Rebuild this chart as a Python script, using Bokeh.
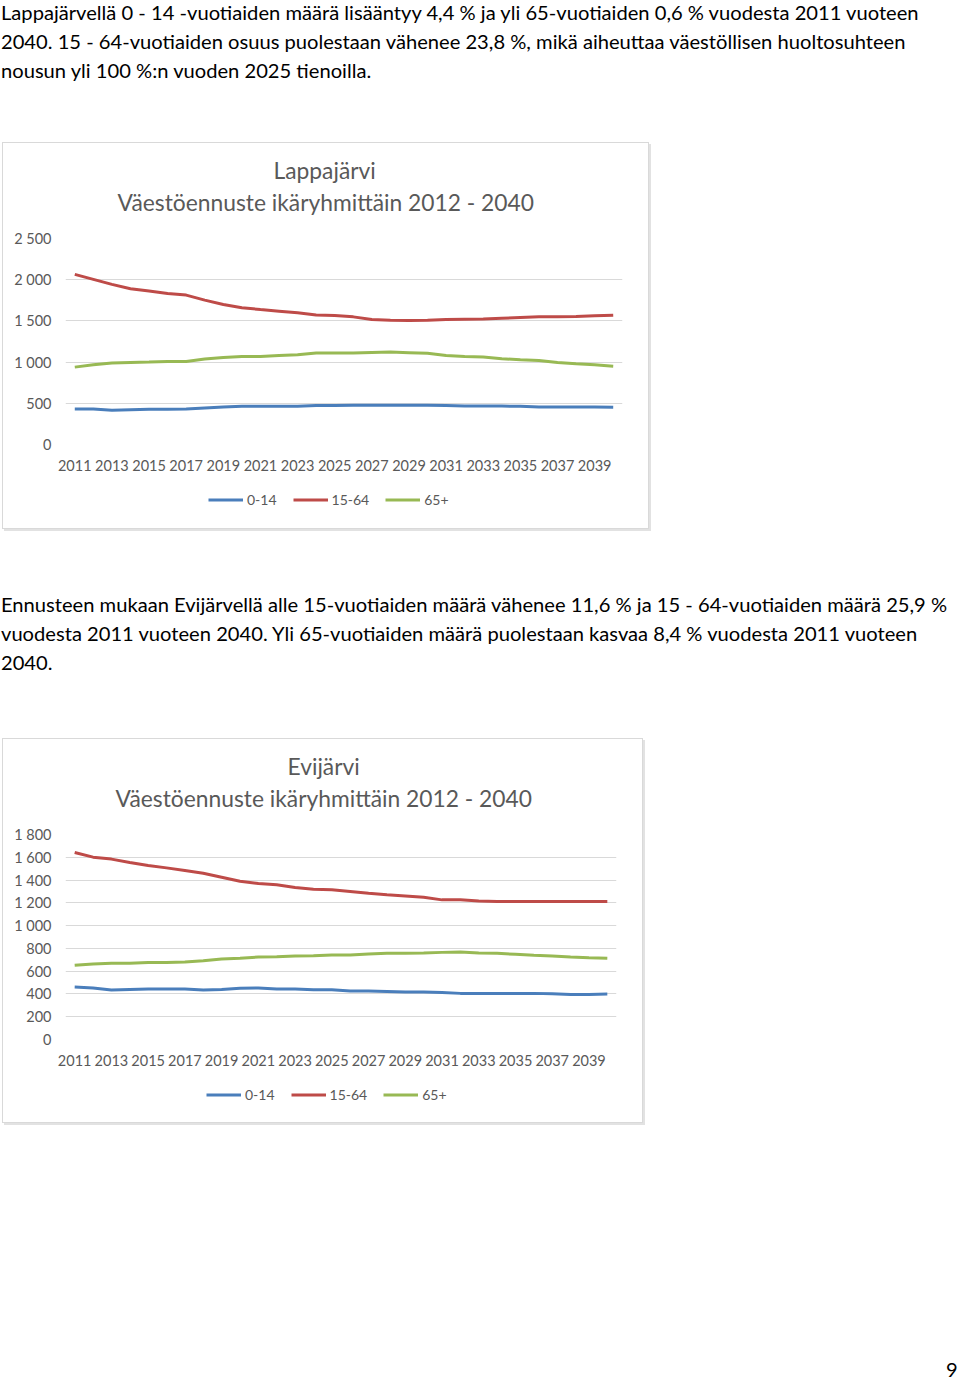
from bokeh.plotting import figure
from bokeh.models import Div, Title, Legend, LegendItem, FixedTicker, Range1d
from bokeh.layouts import column
from bokeh.embed import file_html
from bokeh.resources import INLINE

years = [2011, 2012, 2013, 2014, 2015, 2016, 2017, 2018, 2019, 2020,
         2021, 2022, 2023, 2024, 2025, 2026, 2027, 2028, 2029, 2030,
         2031, 2032, 2033, 2034, 2035, 2036, 2037, 2038, 2039, 2040]
x_ticks = [2011, 2013, 2015, 2017, 2019, 2021, 2023, 2025, 2027, 2029,
           2031, 2033, 2035, 2037, 2039]
series_names = ["0-14", "15-64", "65+"]

# Lappajärvi
lap_0_14 = [431, 431, 415, 423, 427, 427, 431, 443, 455, 463, 463, 463, 463, 472, 472,
            476, 476, 476, 476, 476, 472, 467, 467, 467, 463, 455, 455, 455, 455, 451]
lap_15_64 = [2065, 2004, 1943, 1890, 1862, 1833, 1813, 1752, 1699, 1659, 1638, 1618, 1598, 1573, 1565,
             1549, 1516, 1508, 1504, 1508, 1516, 1520, 1524, 1533, 1541, 1549, 1549, 1553, 1561, 1569]
lap_65 = [939, 967, 988, 996, 1000, 1008, 1008, 1037, 1057, 1069, 1069, 1081, 1089, 1110, 1110,
          1110, 1118, 1122, 1114, 1106, 1081, 1069, 1061, 1041, 1028, 1020, 996, 980, 967, 951]
lap_yticks = [0, 500, 1000, 1500, 2000, 2500]
lap_ylabels = ["0", "500", "1 000", "1 500", "2 000", "2 500"]

# Evijärvi
evi_0_14 = [460, 452, 434, 440, 443, 443, 443, 434, 440, 449, 452, 443, 443, 437, 437,
            425, 425, 422, 416, 416, 413, 405, 405, 405, 405, 405, 402, 396, 396, 399]
evi_15_64 = [1642, 1601, 1584, 1554, 1528, 1507, 1484, 1460, 1425, 1390, 1370, 1358, 1334, 1320, 1314,
             1299, 1284, 1270, 1261, 1249, 1226, 1226, 1217, 1211, 1211, 1211, 1211, 1211, 1211, 1211]
evi_65 = [651, 663, 669, 669, 677, 677, 680, 692, 707, 713, 724, 727, 733, 736, 742,
          742, 751, 757, 757, 760, 765, 768, 760, 757, 748, 739, 733, 724, 718, 713]
evi_yticks = [0, 200, 400, 600, 800, 1000, 1200, 1400, 1600, 1800]
evi_ylabels = ["0", "200", "400", "600", "800", "1 000", "1 200", "1 400", "1 600", "1 800"]

colors = ["#4a7ebb", "#be4b48", "#98b954"]
FONT = "Lato"
GRAY = "#595959"
subtitle = "Väestöennuste ikäryhmittäin 2012 - 2040"
BOX = {"box-shadow": "0 0 0 1px #d9d9d9, 2px 2px 0 1px #e2e2e2"}

para1 = ["Lappajärvellä 0 - 14 -vuotiaiden määrä lisääntyy 4,4 % ja yli 65-vuotiaiden 0,6 % vuodesta 2011 vuoteen",
         "2040. 15 - 64-vuotiaiden osuus puolestaan vähenee 23,8 %, mikä aiheuttaa väestöllisen huoltosuhteen",
         "nousun yli 100 %:n vuoden 2025 tienoilla."]
para2 = ["Ennusteen mukaan Evijärvellä alle 15-vuotiaiden määrä vähenee 11,6 % ja 15 - 64-vuotiaiden määrä 25,9 %",
         "vuodesta 2011 vuoteen 2040. Yli 65-vuotiaiden määrä puolestaan kasvaa 8,4 % vuodesta 2011 vuoteen",
         "2040."]


def make_chart(place, yticks, ylabels, ymax, data, frame_w, frame_h, sub_off, place_off):
    p = figure(frame_width=frame_w, frame_height=frame_h, output_backend="svg", toolbar_location=None,
               x_range=Range1d(2010.5, 2040.5), y_range=Range1d(0, ymax),
               min_border_left=62, min_border_right=26, min_border_top=95,
               min_border_bottom=40,
               outline_line_color=None, background_fill_color="white",
               border_fill_color="white")
    # spacer, subtitle, title (stacked outward from the frame)
    p.add_layout(Title(text=" ", text_font_size="1px", standoff=20), "above")
    p.add_layout(Title(text=subtitle, align="left", offset=sub_off, text_font=FONT,
                       text_font_size="22.8px", text_color=GRAY, text_font_style="normal",
                       standoff=0), "above")
    p.add_layout(Title(text=place, align="left", offset=place_off, text_font=FONT,
                       text_font_size="22.8px", text_color=GRAY, text_font_style="normal",
                       standoff=4), "above")
    for vals, c in zip(data, colors):
        p.line(years, vals, line_color=c, line_width=3)
    p.xaxis.ticker = FixedTicker(ticks=x_ticks)
    p.xaxis.major_label_overrides = {t: str(t) for t in x_ticks}
    p.yaxis.ticker = FixedTicker(ticks=yticks)
    p.yaxis.major_label_overrides = dict(zip(yticks, ylabels))
    for ax in (p.xaxis, p.yaxis):
        ax.axis_line_color = None
        ax.major_tick_line_color = None
        ax.minor_tick_line_color = None
        ax.major_label_text_font = FONT
        ax.major_label_text_font_size = "14.5px"
        ax.major_label_text_color = GRAY
    p.yaxis.major_label_standoff = 8
    p.xaxis.major_label_standoff = 9
    p.xgrid.grid_line_color = None
    p.ygrid.grid_line_color = "#d9d9d9"
    p.ygrid.ticker = FixedTicker(ticks=yticks)
    return p


def legend_strip(width, height, loc, data):
    # legend-only strip under the chart; its lines use the same series but lie outside its range
    q = figure(width=width, height=height, output_backend="svg", toolbar_location=None,
               x_range=Range1d(0, 1), y_range=Range1d(0, 1), min_border=0,
               x_axis_location=None, y_axis_location=None,
               outline_line_color=None, background_fill_color="white", border_fill_color="white")
    q.grid.visible = False
    items = []
    for name, vals, c in zip(series_names, data, colors):
        r = q.line(years, vals, line_color=c, line_width=3)
        items.append(LegendItem(label=name, renderers=[r]))
    q.add_layout(Legend(items=items, orientation="horizontal", location=loc,
                        border_line_color=None, background_fill_alpha=0,
                        glyph_width=35, glyph_height=17, label_standoff=4, spacing=16,
                        label_text_font=FONT, label_text_font_size="14px",
                        label_text_color=GRAY, padding=0, margin=0), "center")
    return q


TXT = "font-family:Lato;font-size:20.15px;line-height:29px;color:#000;white-space:nowrap;"

div1 = Div(text="<div style='%s margin-top:-2px;margin-left:1px;'>%s</div>" % (TXT, "<br>".join(para1)),
           width=944, height=143, margin=0)
lap_data = [lap_0_14, lap_15_64, lap_65]
c1 = make_chart("Lappajärvi", lap_yticks, lap_ylabels, 2500, lap_data, 557, 206, 52, 208)
leg1 = legend_strip(645, 44, (143, 20), lap_data)
chart1 = column(c1, leg1, spacing=0, margin=(0, 0, 0, 3), styles=BOX)

div2 = Div(text="<div style='%s margin-top:62px;margin-left:1px;'>%s</div>" % (TXT, "<br>".join(para2)),
           width=944, height=211, margin=0)

evi_data = [evi_0_14, evi_15_64, evi_65]
c2 = make_chart("Evijärvi", evi_yticks, evi_ylabels, 1800, evi_data, 551, 205, 50, 222)
leg2 = legend_strip(639, 43, (141, 19), evi_data)
chart2 = column(c2, leg2, spacing=0, margin=(0, 0, 0, 3), styles=BOX)

div3 = Div(text="<div style='%s margin-top:237px;margin-left:946px;line-height:20px;'>9</div>" % TXT,
           width=944, height=250, margin=0)

layout = column(div1, chart1, div2, chart2, div3, spacing=0)
open("out.html", "w").write(file_html(layout, INLINE))
